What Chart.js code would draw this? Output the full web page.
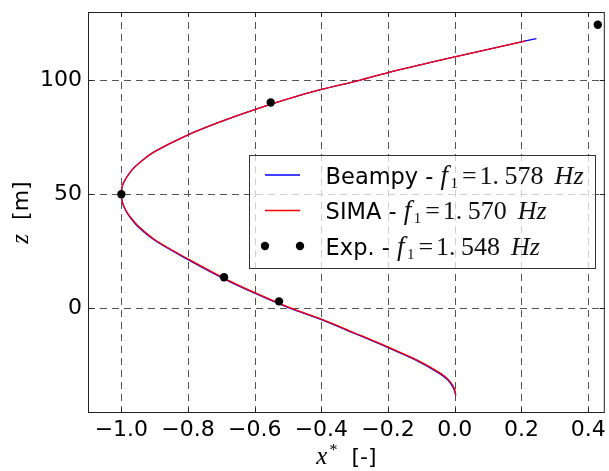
<!DOCTYPE html>
<html><head><meta charset="utf-8">
<script src="https://cdn.jsdelivr.net/npm/chart.js@4.4.0/dist/chart.umd.min.js"></script>
<style>html,body{margin:0;padding:0;background:#fff;overflow:hidden}#wrap{width:609px;height:471px}</style>
</head><body>
<div id="wrap"><canvas id="c" width="609" height="471"></canvas></div>
<script>
// ---- data ----
const beampyX = [0.003, -0.003, -0.020, -0.045, -0.115, -0.200, -0.300, -0.400, -0.495, -0.600, -0.692, -0.800, -0.899, -0.949, -0.972, -0.987, -0.997, -1.000, -0.995, -0.969, -0.940, -0.899, -0.800, -0.700, -0.600, -0.500, -0.400, -0.286, -0.200, -0.100, 0.000, 0.100, 0.200, 0.245];
const beampyZ = [-38.3, -35.3, -31.7, -28.7, -22.9, -17.3, -11.1, -5.0, 0.0, 6.6, 12.9, 21.3, 29.7, 35.6, 39.5, 42.9, 46.5, 50.0, 54.5, 60.5, 64.5, 68.8, 76.1, 82.0, 87.2, 91.9, 96.0, 100.0, 103.4, 106.9, 110.3, 113.6, 116.9, 118.3];
const simaX = [0.003, -0.001, -0.017, -0.041, -0.111, -0.196, -0.296, -0.396, -0.491, -0.596, -0.688, -0.796, -0.896, -0.946, -0.970, -0.986, -0.997, -1.000, -0.995, -0.969, -0.940, -0.899, -0.800, -0.700, -0.600, -0.500, -0.400, -0.286, -0.200, -0.100, 0.000, 0.100, 0.200, 0.213];
const simaZ = [-38.3, -35.3, -31.7, -28.7, -22.9, -17.3, -11.1, -5.0, 0.0, 6.6, 12.9, 21.3, 29.7, 35.6, 39.5, 42.9, 46.5, 50.0, 54.5, 60.5, 64.5, 68.8, 76.1, 82.0, 87.2, 91.9, 96.0, 100.0, 103.4, 106.9, 110.3, 113.6, 116.9, 117.4];
const expX = [-1.000, -0.692, -0.527, -0.552, 0.429];
const expZ = [50.0, 13.6, 3.0, 90.3, 124.4];

const seriesNames = ['Beampy', 'SIMA', 'Exp.'];
const seriesFreqs = ['1.578', '1.570', '1.548'];
const seriesColors = ['#0000ff', '#ff0000', '#000000'];

const xTickValues = [-1.0, -0.8, -0.6, -0.4, -0.2, 0.0, 0.2, 0.4];
const xTickLabels = ['\u22121.0', '\u22120.8', '\u22120.6', '\u22120.4', '\u22120.2', '0.0', '0.2', '0.4'];
const yTickValues = [0, 50, 100];
const yTickLabels = ['0', '50', '100'];
const xRange = [-1.1, 0.45];
const yRange = [-46, 130];

const toPts = (xs, zs) => xs.map((x, i) => ({x: x, y: zs[i]}));

const SANS = '"DejaVu Sans", sans-serif';
const SERIF = '"Liberation Serif", "DejaVu Serif", serif';

function labelFor(values, labels, v) {
  const i = values.findIndex(t => Math.abs(t - v) < 1e-9);
  return i >= 0 ? labels[i] : '';
}

const gridPlugin = {
  id: 'mplGrid',
  beforeDatasetsDraw(chart) {
    const {ctx, chartArea: a, scales: {x, y}} = chart;
    ctx.save();
    ctx.strokeStyle = '#555';
    ctx.lineWidth = 1;
    ctx.setLineDash([7, 5]);
    xTickValues.forEach(v => {
      const px = Math.round(x.getPixelForValue(v)) + 0.5;
      ctx.beginPath(); ctx.moveTo(px, a.bottom); ctx.lineTo(px, a.top); ctx.stroke();
    });
    yTickValues.forEach(v => {
      const py = Math.round(y.getPixelForValue(v)) + 0.5;
      ctx.beginPath(); ctx.moveTo(a.left, py); ctx.lineTo(a.right, py); ctx.stroke();
    });
    ctx.restore();
  }
};

const framePlugin = {
  id: 'mplFrame',
  afterDraw(chart) {
    const {ctx, chartArea: a, scales: {x, y}} = chart;
    ctx.save();
    ctx.strokeStyle = '#222';
    ctx.lineWidth = 1;
    ctx.setLineDash([]);
    ctx.strokeRect(a.left + 0.5, a.top + 0.5, a.right - a.left - 1, a.bottom - a.top - 1);
    const L = 5;
    ctx.beginPath();
    xTickValues.forEach(v => {
      const px = Math.round(x.getPixelForValue(v)) + 0.5;
      ctx.moveTo(px, a.bottom); ctx.lineTo(px, a.bottom - L);
      ctx.moveTo(px, a.top); ctx.lineTo(px, a.top + L);
    });
    yTickValues.forEach(v => {
      const py = Math.round(y.getPixelForValue(v)) + 0.5;
      ctx.moveTo(a.left, py); ctx.lineTo(a.left + L, py);
      ctx.moveTo(a.right, py); ctx.lineTo(a.right - L, py);
    });
    ctx.stroke();

    // axis titles
    ctx.fillStyle = '#000';
    ctx.textBaseline = 'alphabetic';
    const cx = (a.left + a.right) / 2;
    const by = 464;
    ctx.font = 'italic 25px ' + SERIF;
    const wx = ctx.measureText('x').width;
    ctx.font = '16px ' + SERIF;
    const ws = ctx.measureText('*').width;
    ctx.font = '22px ' + SANS;
    const wr = ctx.measureText('  [-]').width;
    let sx = cx - (wx + 2 + ws + wr) / 2;
    ctx.font = 'italic 25px ' + SERIF; ctx.fillText('x', sx, by); sx += wx + 2;
    ctx.font = '16px ' + SERIF; ctx.fillText('*', sx, by - 9); sx += ws;
    ctx.font = '22px ' + SANS; ctx.fillText('  [-]', sx, by);

    ctx.save();
    ctx.translate(28, (a.top + a.bottom) / 2);
    ctx.rotate(-Math.PI / 2);
    ctx.font = 'italic 25px ' + SERIF;
    const wz = ctx.measureText('z').width;
    ctx.font = '22px ' + SANS;
    const wm = ctx.measureText('  [m]').width;
    let sy = -(wz + wm) / 2;
    ctx.font = 'italic 25px ' + SERIF; ctx.fillText('z', sy, 0); sy += wz;
    ctx.font = '22px ' + SANS; ctx.fillText('  [m]', sy, 0);
    ctx.restore();

    // legend
    const bx = 249.5, bt = 155.5, bw = 346, bh = 113;
    ctx.fillStyle = 'rgba(255,255,255,0.72)';
    ctx.fillRect(bx, bt, bw, bh);
    ctx.strokeStyle = '#333';
    ctx.lineWidth = 1;
    ctx.strokeRect(bx, bt, bw, bh);
    const baselines = [183.5, 219, 254.5];
    seriesNames.forEach((name, i) => {
      const base = baselines[i];
      const my = base - 8.5;
      if (i < 2) {
        ctx.strokeStyle = seriesColors[i];
        ctx.lineWidth = 1.3;
        ctx.beginPath(); ctx.moveTo(265, my); ctx.lineTo(300, my); ctx.stroke();
      } else {
        ctx.fillStyle = '#000';
        [265, 300].forEach(px => { ctx.beginPath(); ctx.arc(px, my, 4.2, 0, Math.PI * 2); ctx.fill(); });
      }
      ctx.fillStyle = '#000';
      ctx.font = '22.5px ' + SANS;
      const txt = name + ' - ';
      ctx.fillText(txt, 325.6, base);
      const x0 = 325.6 + ctx.measureText(txt).width;
      const f = seriesFreqs[i];
      ctx.fillStyle = '#111';
      ctx.font = 'italic 27px ' + SERIF; ctx.fillText('f', x0, base);
      ctx.font = '15px ' + SERIF; ctx.fillText('1', x0 + 10, base + 4);
      ctx.font = '26px ' + SERIF; ctx.fillText('=', x0 + 21.5, base);
      const dot = f.indexOf('.');
      ctx.fillText(f.slice(0, dot + 1), x0 + 39, base);
      ctx.fillText(f.slice(dot + 1), x0 + 64, base);
      ctx.font = 'italic 26px ' + SERIF; ctx.fillText('Hz', x0 + 114, base);
    });
    ctx.restore();
  }
};

new Chart(document.getElementById('c'), {
  type: 'scatter',
  data: {
    datasets: [
      {label: seriesNames[2], data: toPts(expX, expZ), showLine: false, pointRadius: 4.2, pointHoverRadius: 4.2,
       backgroundColor: seriesColors[2], borderColor: seriesColors[2], borderWidth: 0},
      {label: seriesNames[1], data: toPts(simaX, simaZ), showLine: true, pointRadius: 0, borderColor: seriesColors[1],
       backgroundColor: seriesColors[1], borderWidth: 1.3, tension: 0.3, fill: false},
      {label: seriesNames[0], data: toPts(beampyX, beampyZ), showLine: true, pointRadius: 0, borderColor: seriesColors[0],
       backgroundColor: seriesColors[0], borderWidth: 1.3, tension: 0.3, fill: false}
    ]
  },
  options: {
    responsive: false,
    animation: false,
    events: [],
    layout: {padding: {top: 12, right: 3, left: 0, bottom: 0}},
    plugins: {legend: {display: false}, tooltip: {enabled: false}},
    scales: {
      x: {
        type: 'linear', min: xRange[0], max: xRange[1],
        grid: {display: false, drawTicks: false},
        border: {display: false},
        afterBuildTicks: s => { s.ticks = xTickValues.map(v => ({value: v})); },
        afterFit: s => { s.height = 58; s.paddingLeft = 0; s.paddingRight = 0; },
        ticks: {autoSkip: false, maxRotation: 0, padding: 4, color: '#000',
                font: {family: 'DejaVu Sans', size: 22},
                callback: v => labelFor(xTickValues, xTickLabels, v)}
      },
      y: {
        type: 'linear', min: yRange[0], max: yRange[1],
        grid: {display: false, drawTicks: false},
        border: {display: false},
        afterBuildTicks: s => { s.ticks = yTickValues.map(v => ({value: v})); },
        afterFit: s => { s.width = 88; s.paddingTop = 0; s.paddingBottom = 0; },
        ticks: {autoSkip: false, padding: 6, color: '#000',
                font: {family: 'DejaVu Sans', size: 22},
                callback: v => labelFor(yTickValues, yTickLabels, v)}
      }
    }
  },
  plugins: [gridPlugin, framePlugin]
});
</script>
</body></html>
